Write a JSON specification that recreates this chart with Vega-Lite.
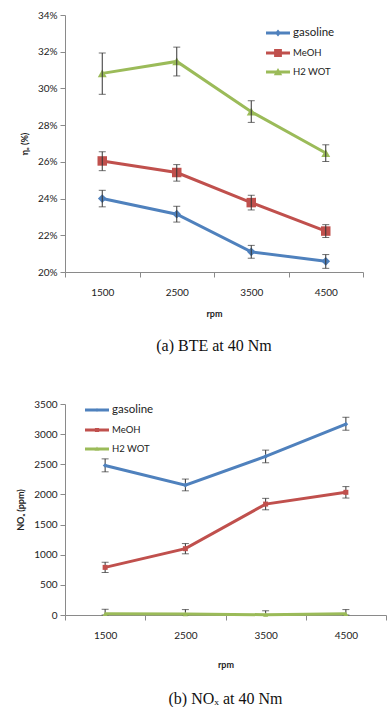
{
  "$schema": "https://vega.github.io/schema/vega-lite/v6.json",
  "background": "white",
  "padding": {"left": 16, "top": 10, "right": 0, "bottom": 0},
  "config": {
    "view": {"stroke": null},
    "font": "Lato",
    "axis": {"grid": false, "domainColor": "#8a8a8a", "tickColor": "#8a8a8a", "labelColor": "#222", "labelFont": "Lato", "labelFontSize": 10, "titleFont": "Lato", "titleFontSize": 9, "titleFontWeight": "bold", "titleColor": "#222", "tickSize": 5, "labelOverlap": false},
    "title": {"font": "Liberation Serif", "fontSize": 16, "fontWeight": "normal", "color": "#111"},
    "legend": {"labelFont": "Lato", "labelColor": "#222"}
  },
  "spacing": 45,
  "resolve": {"scale": {"color": "independent", "y": "independent", "x": "independent"}, "legend": {"color": "independent"}},
  "vconcat": [
    {
      "width": 298,
      "height": 257,
      "title": {"text": "(a) BTE at 40 Nm", "orient": "bottom", "offset": 20},
      "data": {"values": [
        {"rpm": "1500", "fuel": "gasoline", "v": 24.0, "lo": 23.55, "hi": 24.45},
        {"rpm": "2500", "fuel": "gasoline", "v": 23.15, "lo": 22.72, "hi": 23.58},
        {"rpm": "3500", "fuel": "gasoline", "v": 21.1, "lo": 20.75, "hi": 21.45},
        {"rpm": "4500", "fuel": "gasoline", "v": 20.58, "lo": 20.2, "hi": 20.95},
        {"rpm": "1500", "fuel": "MeOH", "v": 26.05, "lo": 25.52, "hi": 26.55},
        {"rpm": "2500", "fuel": "MeOH", "v": 25.42, "lo": 24.95, "hi": 25.85},
        {"rpm": "3500", "fuel": "MeOH", "v": 23.78, "lo": 23.38, "hi": 24.18},
        {"rpm": "4500", "fuel": "MeOH", "v": 22.23, "lo": 21.88, "hi": 22.58},
        {"rpm": "1500", "fuel": "H2 WOT", "v": 30.82, "lo": 29.68, "hi": 31.93},
        {"rpm": "2500", "fuel": "H2 WOT", "v": 31.47, "lo": 30.68, "hi": 32.25},
        {"rpm": "3500", "fuel": "H2 WOT", "v": 28.73, "lo": 28.15, "hi": 29.33},
        {"rpm": "4500", "fuel": "H2 WOT", "v": 26.48, "lo": 26.02, "hi": 26.93}
      ]},
      "encoding": {
        "x": {"field": "rpm", "type": "ordinal", "scale": {"type": "band", "paddingInner": 0, "paddingOuter": 0}, "axis": {"title": "rpm", "labelAngle": 0, "tickBand": "extent", "labelPadding": 10, "titlePadding": 12}}
      },
      "layer": [
        {
          "mark": {"type": "line", "strokeWidth": 3},
          "encoding": {
            "y": {"field": "v", "type": "quantitative", "scale": {"domain": [20, 34], "nice": false, "zero": false}, "axis": {"title": "ηₑ (%)", "values": [20, 22, 24, 26, 28, 30, 32, 34], "labelExpr": "datum.value + '%'", "titlePadding": 8, "labelPadding": 3, "labelOverlap": false}},
            "color": {"field": "fuel", "type": "nominal", "scale": {"domain": ["gasoline", "MeOH", "H2 WOT"], "range": ["#4F81BD", "#C0504D", "#9BBB59"]},
              "legend": {"orient": "none", "legendX": 207, "legendY": 12, "title": null, "symbolSize": 144, "labelFontSize": 10, "rowPadding": 8, "labelOffset": 9,
                "encode": {
                  "symbols": {"update": {
                    "shape": {"signal": "datum.value === 'gasoline' ? 'M-2,-0.25H2V0.25H-2Z M0,-0.6L0.5,0L0,0.6L-0.5,0Z' : datum.value === 'MeOH' ? 'M-2,-0.25H2V0.25H-2Z M-0.65,-0.65H0.65V0.65H-0.65Z' : 'M-2,-0.25H2V0.25H-2Z M0,-0.65L0.7,0.55H-0.7Z'"},
                    "fill": {"signal": "datum.value === 'gasoline' ? '#4F81BD' : datum.value === 'MeOH' ? '#C0504D' : '#9BBB59'"},
                    "strokeWidth": {"value": 0},
                    "opacity": {"value": 1}
                  }},
                  "labels": {"update": {"fontSize": {"signal": "datum.value === 'gasoline' ? 11.5 : 9.5"}}}
                }}}
          }
        },
        {
          "transform": [{"filter": "datum.fuel === 'gasoline'"}],
          "mark": {"type": "point", "filled": true, "opacity": 1, "size": 75, "shape": "diamond", "color": "#4F81BD"},
          "encoding": {"y": {"field": "v", "type": "quantitative", "axis": {"title": "ηₑ (%)", "values": [20, 22, 24, 26, 28, 30, 32, 34], "labelExpr": "datum.value + '%'", "titlePadding": 8, "labelPadding": 3, "labelOverlap": false}}}
        },
        {
          "transform": [{"filter": "datum.fuel === 'MeOH'"}],
          "mark": {"type": "point", "filled": true, "opacity": 1, "size": 90, "shape": "square", "color": "#C0504D"},
          "encoding": {"y": {"field": "v", "type": "quantitative", "axis": {"title": "ηₑ (%)", "values": [20, 22, 24, 26, 28, 30, 32, 34], "labelExpr": "datum.value + '%'", "titlePadding": 8, "labelPadding": 3, "labelOverlap": false}}}
        },
        {
          "transform": [{"filter": "datum.fuel === 'H2 WOT'"}],
          "mark": {"type": "point", "filled": true, "opacity": 1, "size": 80, "shape": "triangle-up", "color": "#9BBB59"},
          "encoding": {"y": {"field": "v", "type": "quantitative", "axis": {"title": "ηₑ (%)", "values": [20, 22, 24, 26, 28, 30, 32, 34], "labelExpr": "datum.value + '%'", "titlePadding": 8, "labelPadding": 3, "labelOverlap": false}}}
        },
        {
          "mark": {"type": "errorbar", "ticks": {"size": 7, "color": "#333"}, "rule": {"color": "#333"}, "color": "#333"},
          "encoding": {
            "y": {"field": "lo", "type": "quantitative", "axis": {"title": "ηₑ (%)", "values": [20, 22, 24, 26, 28, 30, 32, 34], "labelExpr": "datum.value + '%'", "titlePadding": 8, "labelPadding": 3, "labelOverlap": false}},
            "y2": {"field": "hi"}
          }
        }
      ]
    },
    {
      "width": 321,
      "height": 211,
      "title": {"text": "(b) NOₓ at 40 Nm", "orient": "bottom", "offset": 22},
      "data": {"values": [
        {"rpm": "1500", "fuel": "gasoline", "v": 2480, "lo": 2375, "hi": 2590},
        {"rpm": "2500", "fuel": "gasoline", "v": 2155, "lo": 2060, "hi": 2255},
        {"rpm": "3500", "fuel": "gasoline", "v": 2630, "lo": 2525, "hi": 2735},
        {"rpm": "4500", "fuel": "gasoline", "v": 3165, "lo": 3065, "hi": 3280},
        {"rpm": "1500", "fuel": "MeOH", "v": 790, "lo": 705, "hi": 875},
        {"rpm": "2500", "fuel": "MeOH", "v": 1100, "lo": 1015, "hi": 1185},
        {"rpm": "3500", "fuel": "MeOH", "v": 1840, "lo": 1745, "hi": 1935},
        {"rpm": "4500", "fuel": "MeOH", "v": 2035, "lo": 1940, "hi": 2130},
        {"rpm": "1500", "fuel": "H2 WOT", "v": 20, "lo": 0, "hi": 95},
        {"rpm": "2500", "fuel": "H2 WOT", "v": 15, "lo": 0, "hi": 90},
        {"rpm": "3500", "fuel": "H2 WOT", "v": 5, "lo": 0, "hi": 70},
        {"rpm": "4500", "fuel": "H2 WOT", "v": 20, "lo": 0, "hi": 90}
      ]},
      "encoding": {
        "x": {"field": "rpm", "type": "ordinal", "scale": {"type": "band", "paddingInner": 0, "paddingOuter": 0}, "axis": {"title": "rpm", "labelAngle": 0, "tickBand": "extent", "labelPadding": 10, "titlePadding": 20}}
      },
      "layer": [
        {
          "mark": {"type": "errorbar", "ticks": {"size": 7, "color": "#333"}, "rule": {"color": "#333"}, "color": "#333"},
          "encoding": {
            "y": {"field": "lo", "type": "quantitative", "axis": {"title": "NOₓ (ppm)", "values": [0, 500, 1000, 1500, 2000, 2500, 3000, 3500], "format": "d", "titlePadding": 8, "labelPadding": 3, "labelOverlap": false}},
            "y2": {"field": "hi"}
          }
        },
        {
          "mark": {"type": "line", "strokeWidth": 3},
          "encoding": {
            "y": {"field": "v", "type": "quantitative", "scale": {"domain": [0, 3500], "nice": false}, "axis": {"title": "NOₓ (ppm)", "values": [0, 500, 1000, 1500, 2000, 2500, 3000, 3500], "format": "d", "titlePadding": 8, "labelPadding": 3, "labelOverlap": false}},
            "color": {"field": "fuel", "type": "nominal", "scale": {"domain": ["gasoline", "MeOH", "H2 WOT"], "range": ["#4F81BD", "#C0504D", "#9BBB59"]},
              "legend": {"orient": "none", "legendX": 26, "legendY": 0, "title": null, "symbolSize": 144, "labelFontSize": 10, "rowPadding": 8, "labelOffset": 9,
                "encode": {
                  "symbols": {"update": {
                    "shape": {"signal": "datum.value === 'gasoline' ? 'M-2,-0.25H2V0.25H-2Z M0,-0.35L0.25,0L0,0.35L-0.25,0Z' : datum.value === 'MeOH' ? 'M-2,-0.25H2V0.25H-2Z M-0.35,-0.35H0.35V0.35H-0.35Z' : 'M-2,-0.25H2V0.25H-2Z M0,-0.4L0.4,0.3H-0.4Z'"},
                    "fill": {"signal": "datum.value === 'gasoline' ? '#4F81BD' : datum.value === 'MeOH' ? '#C0504D' : '#9BBB59'"},
                    "strokeWidth": {"value": 0},
                    "opacity": {"value": 1}
                  }},
                  "labels": {"update": {"fontSize": {"signal": "datum.value === 'gasoline' ? 11.5 : 9.5"}}}
                }}}
          }
        },
        {
          "transform": [{"filter": "datum.fuel === 'gasoline'"}],
          "mark": {"type": "point", "filled": true, "opacity": 1, "size": 22, "shape": "diamond", "color": "#4F81BD"},
          "encoding": {"y": {"field": "v", "type": "quantitative", "axis": {"title": "NOₓ (ppm)", "values": [0, 500, 1000, 1500, 2000, 2500, 3000, 3500], "format": "d", "titlePadding": 8, "labelPadding": 3, "labelOverlap": false}}}
        },
        {
          "transform": [{"filter": "datum.fuel === 'MeOH'"}],
          "mark": {"type": "point", "filled": true, "opacity": 1, "size": 25, "shape": "square", "color": "#C0504D"},
          "encoding": {"y": {"field": "v", "type": "quantitative", "axis": {"title": "NOₓ (ppm)", "values": [0, 500, 1000, 1500, 2000, 2500, 3000, 3500], "format": "d", "titlePadding": 8, "labelPadding": 3, "labelOverlap": false}}}
        },
        {
          "transform": [{"filter": "datum.fuel === 'H2 WOT'"}],
          "mark": {"type": "point", "filled": true, "opacity": 1, "size": 25, "shape": "triangle-up", "color": "#9BBB59"},
          "encoding": {"y": {"field": "v", "type": "quantitative", "axis": {"title": "NOₓ (ppm)", "values": [0, 500, 1000, 1500, 2000, 2500, 3000, 3500], "format": "d", "titlePadding": 8, "labelPadding": 3, "labelOverlap": false}}}
        }
      ]
    }
  ]
}
